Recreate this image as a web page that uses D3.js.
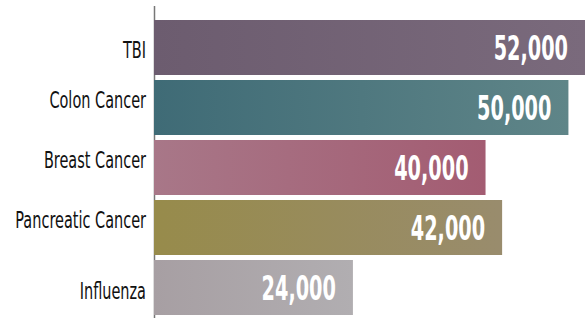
<!DOCTYPE html>
<html>
<head>
<meta charset="utf-8">
<script src="https://cdn.jsdelivr.net/npm/d3@7"></script>
<style>
  body { margin: 0; background: #fff; }
  svg { display: block; }
</style>
</head>
<body>
<script>
// dati del grafico
const categories = ["TBI", "Colon Cancer", "Breast Cancer", "Pancreatic Cancer", "Influenza"];
const values = [52000, 50000, 40000, 42000, 24000];
const colorsLeft = ["#6c5c6f", "#3f6b76", "#a87788", "#978b4b", "#a79fa3"];
const colorsRight = ["#7a6a7c", "#5f8588", "#a35c72", "#998c6d", "#b1aeb1"];

const width = 585, height = 319;
const x0 = 154;
// piccoli spostamenti verticali delle etichette, come nell'originale
const labelShift = [10.5, 0, 0, 0, 11.5];
const font = "'DejaVu Sans Condensed', 'DejaVu Sans', sans-serif";

const svg = d3.select("body")
  .append("svg")
  .attr("width", width)
  .attr("height", height);

const x = d3.scaleLinear()
  .domain([0, 52000])
  .range([x0, x0 + 431]);

const y = d3.scaleBand()
  .domain(categories)
  .range([17.5, 317.5])
  .paddingInner(1 / 12)
  .paddingOuter(1 / 24);

const defs = svg.append("defs");
categories.forEach((c, i) => {
  const g = defs.append("linearGradient")
    .attr("id", "grad" + i)
    .attr("x1", "0%").attr("x2", "100%")
    .attr("y1", "0%").attr("y2", "0%");
  g.append("stop").attr("offset", "0%").attr("stop-color", colorsLeft[i]);
  g.append("stop").attr("offset", "100%").attr("stop-color", colorsRight[i]);
});

// asse verticale
svg.append("line")
  .attr("x1", x0 + 0.5).attr("x2", x0 + 0.5)
  .attr("y1", 6).attr("y2", 318)
  .style("stroke", "#777")
  .style("stroke-width", 1.5);

svg.selectAll(".bar")
  .data(categories)
  .enter()
  .append("rect")
  .attr("class", "bar")
  .attr("x", x(0))
  .attr("y", d => y(d))
  .attr("width", (d, i) => x(values[i]) - x(0))
  .attr("height", y.bandwidth())
  .style("fill", (d, i) => `url(#grad${i})`);

svg.selectAll(".cat")
  .data(categories)
  .enter()
  .append("text")
  .attr("class", "cat")
  .attr("transform", (d, i) =>
    `translate(${x0 - 8},${y(d) + y.bandwidth() / 2 + labelShift[i]}) scale(0.7,1)`)
  .attr("text-anchor", "end")
  .style("font-family", font)
  .style("font-size", "23px")
  .style("fill", "#111")
  .text(d => d);

svg.selectAll(".val")
  .data(categories)
  .enter()
  .append("text")
  .attr("class", "val")
  .attr("transform", (d, i) =>
    `translate(${x(values[i]) - 17},${y(d) + y.bandwidth() / 2}) scale(0.63,1)`)
  .attr("dy", "0.36em")
  .attr("text-anchor", "end")
  .style("font-family", font)
  .style("font-weight", "bold")
  .style("font-size", "34px")
  .style("fill", "#fff")
  .text((d, i) => d3.format(",")(values[i]));
</script>
</body>
</html>
